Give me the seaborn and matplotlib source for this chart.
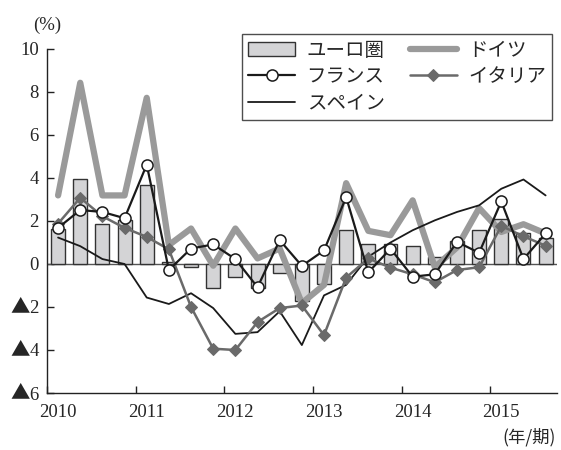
import numpy as np
import pandas as pd
import matplotlib
matplotlib.use("Agg")
import matplotlib.pyplot as plt
import matplotlib.transforms as mtransforms
import seaborn as sns

sns.set_style("ticks")
plt.rcParams['font.family'] = ['Liberation Serif', 'DejaVu Serif', 'Noto Sans CJK JP']

years = [2010, 2011, 2012, 2013, 2014, 2015]
quarters = [(y, q) for y in years for q in (1, 2, 3, 4)][:23]
xpos = [y + (q - 0.5) / 4 for y, q in quarters]

euro = [1.65, 3.96, 1.88, 2.03, 3.68, 0.10, -0.12, -1.12, -0.62, -1.12, -0.43, -1.74,
        -0.94, 1.60, 0.94, 0.92, 0.86, 0.31, 1.05, 1.59, 2.11, 1.46, 1.22]
germany = [3.19, 8.43, 3.19, 3.19, 7.73, 0.88, 1.65, -0.08, 1.65, 0.26, 0.72, -1.82,
           -0.97, 3.76, 1.54, 1.34, 2.96, -0.15, 0.77, 2.60, 1.49, 1.85, 1.42]
france = [1.68, 2.51, 2.42, 2.13, 4.62, -0.28, 0.72, 0.91, 0.23, -1.08, 1.11, -0.09,
          0.63, 3.11, -0.39, 0.71, -0.59, -0.48, 1.03, 0.52, 2.91, 0.23, 1.42]
italy = [1.88, 3.08, 2.22, 1.68, 1.26, 0.68, -2.00, -3.94, -4.00, -2.70, -2.05, -1.93,
         -3.31, -0.63, 0.26, -0.17, -0.48, -0.85, -0.28, -0.15, 1.77, 1.29, 0.85]
spain = [1.23, 0.83, 0.23, 0.00, -1.56, -1.86, -1.36, -2.05, -3.25, -3.17, -2.20, -3.77,
         -1.46, -0.97, 0.34, 1.00, 1.57, 2.03, 2.42, 2.73, 3.50, 3.93, 3.19]

yticks = [10, 8, 6, 4, 2, 0, -2, -4, -6]
ytick_labels = ['10', '8', '6', '4', '2', '0', '2', '4', '6']
neg_mark = '▲'

df = pd.DataFrame({'x': xpos, 'euro': euro, 'germany': germany, 'france': france,
                   'italy': italy, 'spain': spain})

fig = plt.figure(figsize=(5.61, 4.5), dpi=100)
ax = fig.add_axes([47/561, 1 - 393/450, (556.7 - 47)/561, (393 - 49)/450])

ax.axhline(0, color='#555555', lw=1.0, zorder=1)

sns.barplot(data=df, x='x', y='euro', native_scale=True, width=0.63,
            color='#d4d4d6', edgecolor='#333333', linewidth=1.0, saturation=1,
            ax=ax, zorder=2, label='ユーロ圏')

sns.lineplot(data=df, x='x', y='germany', ax=ax, color='#9a9a9a', lw=4.5,
             zorder=3, label='ドイツ')
sns.lineplot(data=df, x='x', y='spain', ax=ax, color='#1a1a1a', lw=1.3,
             zorder=4, label='スペイン')
sns.lineplot(data=df, x='x', y='italy', ax=ax, color='#6a6a6a', lw=1.8,
             marker='D', markersize=6.5, markerfacecolor='#6a6a6a',
             markeredgecolor='#6a6a6a', zorder=5, label='イタリア')
sns.lineplot(data=df, x='x', y='france', ax=ax, color='#1a1a1a', lw=1.6,
             marker='o', markersize=8, markerfacecolor='white',
             markeredgecolor='#1a1a1a', markeredgewidth=1.1, zorder=6, label='フランス')

ax.set_xlim(2010, 2015.75)
ax.set_ylim(-6, 10)
ax.set_xticks(years)
ax.set_xticklabels([str(y) for y in years], fontsize=13.5)
ax.set_yticks(yticks)
ax.set_yticklabels(ytick_labels, fontsize=13.5)
ax.tick_params(direction='in', length=5, width=1, color='#222222')
ax.tick_params(axis='y', pad=6)
ax.tick_params(axis='x', pad=8)
shift = mtransforms.ScaledTranslation(11/100, 0, fig.dpi_scale_trans)
for lab in ax.get_xticklabels():
    lab.set_transform(lab.get_transform() + shift)
for yv in yticks:
    if yv < 0:
        ax.annotate(neg_mark, xy=(0, yv), xycoords=('axes fraction', 'data'),
                    xytext=(-12.3, 0), textcoords='offset points', ha='right',
                    va='center', fontsize=14, family=['Noto Sans CJK JP'],
                    annotation_clip=False)
ax.set_xlabel('')
ax.set_ylabel('')
for s in ['top', 'right']:
    ax.spines[s].set_visible(False)
for s in ['left', 'bottom']:
    ax.spines[s].set_linewidth(1.0)
    ax.spines[s].set_color('#222222')

handles, labels = ax.get_legend_handles_labels()
if ax.get_legend():
    ax.get_legend().remove()
order = ['ユーロ圏', 'フランス', 'スペイン', 'ドイツ', 'イタリア']
hmap = dict(zip(labels, handles))
leg = fig.legend([hmap[k] for k in order], order, loc='upper right',
                 bbox_to_anchor=(552/561, 1 - 34/450), ncol=2, frameon=True,
                 fancybox=False, edgecolor='#222222',
                 prop={'family': ['Noto Sans CJK JP', 'DejaVu Sans'], 'size': 14},
                 handlelength=2.4, labelspacing=0.28, columnspacing=1.3,
                 borderpad=0.3, handletextpad=0.6, borderaxespad=0)
leg.get_frame().set_linewidth(1.0)

fig.text(47/561, 1 - 25/450, '(%)', fontsize=13.5, ha='center', va='center')
fig.text(556/561, 1 - 437/450, '(年/期)', fontsize=12.5, ha='right', va='center',
         family=['Noto Sans CJK JP', 'DejaVu Sans'])

fig.savefig('out.png', dpi=100)
